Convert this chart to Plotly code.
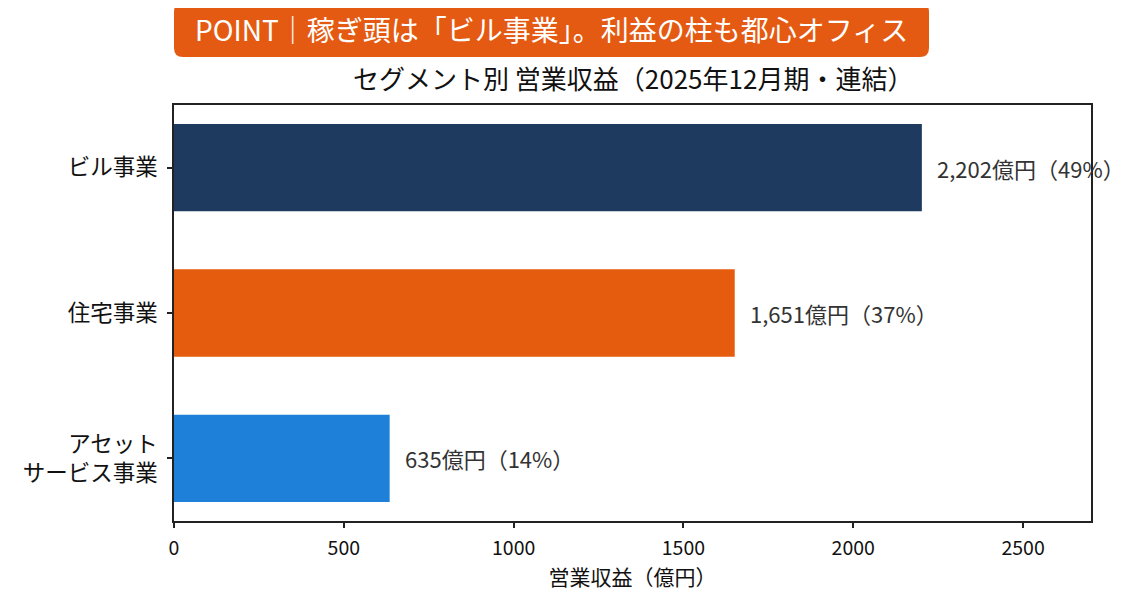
import plotly.graph_objects as go

# セグメント別 営業収益（2025年12月期・連結）
segments = ['ビル事業', '住宅事業', 'アセット<br>サービス事業']
revenue = [2202, 1651, 635]  # 億円
share = [49, 37, 14]  # %
colors = ['#1f3a5f', '#e65c0e', '#1e80d8']
x_ticks = [0, 500, 1000, 1500, 2000, 2500]

font = 'Noto Sans CJK JP'
# page body has an 8px margin, so the figure is a bit smaller than the window
OFF = 8
W, H = 1146 - OFF, 604 - OFF
PL, PR, PT, PB = 174, 1091, 105, 521  # plot box in window pixels

fig = go.Figure()
fig.add_trace(go.Bar(
    y=segments,
    x=revenue,
    orientation='h',
    marker=dict(color=colors, line=dict(width=0)),
    width=0.6,
    hoverinfo='skip',
))

for seg, v, s in zip(segments, revenue, share):
    fig.add_annotation(
        x=v, y=seg, xref='x', yref='y',
        text=f'{v:,}億円（{s}%）',
        showarrow=False, xanchor='left', xshift=13,
        font=dict(family=font, size=22, color='#333333'),
    )

# window pixels -> paper coords
def px(x):
    return (x - PL) / (PR - PL)
def py(y):
    return (PB - y) / (PB - PT)

# banner (rounded rect)
x0, x1, y0, y1 = px(174), px(929), py(57), py(3)
rx, ry = 9 / (PR - PL), 9 / (PB - PT)
path = (f'M {x0+rx},{y1} L {x1-rx},{y1} Q {x1},{y1} {x1},{y1-ry} '
        f'L {x1},{y0+ry} Q {x1},{y0} {x1-rx},{y0} L {x0+rx},{y0} '
        f'Q {x0},{y0} {x0},{y0+ry} L {x0},{y1-ry} Q {x0},{y1} {x0+rx},{y1} Z')
fig.add_shape(type='path', path=path, xref='paper', yref='paper',
              fillcolor='#e55a12', line=dict(width=0), layer='above')
fig.add_annotation(
    x=(x0 + x1) / 2, y=py(29), xref='paper', yref='paper',
    xanchor='center', yanchor='middle',
    text='POINT｜稼ぎ頭は「ビル事業」。利益の柱も都心オフィス',
    showarrow=False, font=dict(family=font, size=28, color='white'),
)
fig.add_annotation(
    x=0.5, y=py(78), xref='paper', yref='paper',
    xanchor='center', yanchor='middle',
    text='セグメント別 営業収益（2025年12月期・連結）',
    showarrow=False, font=dict(family=font, size=26, color='#111111'),
)

fig.update_layout(
    width=W, height=H,
    margin=dict(l=PL - OFF, r=W - (PR - OFF), t=PT - OFF, b=H - (PB - OFF)),
    paper_bgcolor='white', plot_bgcolor='white',
    showlegend=False,
    font=dict(family=font, color='#111111'),
)
fig.update_xaxes(
    range=[0, 2700], tickvals=x_ticks, ticktext=[str(t) for t in x_ticks],
    ticks='outside', ticklen=5, tickwidth=1.5, tickcolor='#222222',
    ticklabelstandoff=4,
    showgrid=False, zeroline=False,
    showline=True, linecolor='#222222', linewidth=1.5, mirror=True,
    tickfont=dict(family=font, size=19.5, color='#111111'),
    title=dict(text='営業収益（億円）', font=dict(family=font, size=21, color='#111111'), standoff=10),
)
fig.update_yaxes(
    autorange=False, range=[2.43, -0.43],
    ticks='outside', ticklen=5, tickwidth=1.5, tickcolor='#222222',
    ticklabelstandoff=5,
    showgrid=False, zeroline=False,
    showline=True, linecolor='#222222', linewidth=1.5, mirror=True,
    tickfont=dict(family=font, size=22.5, color='#111111'),
)

fig.write_html('out.html')
